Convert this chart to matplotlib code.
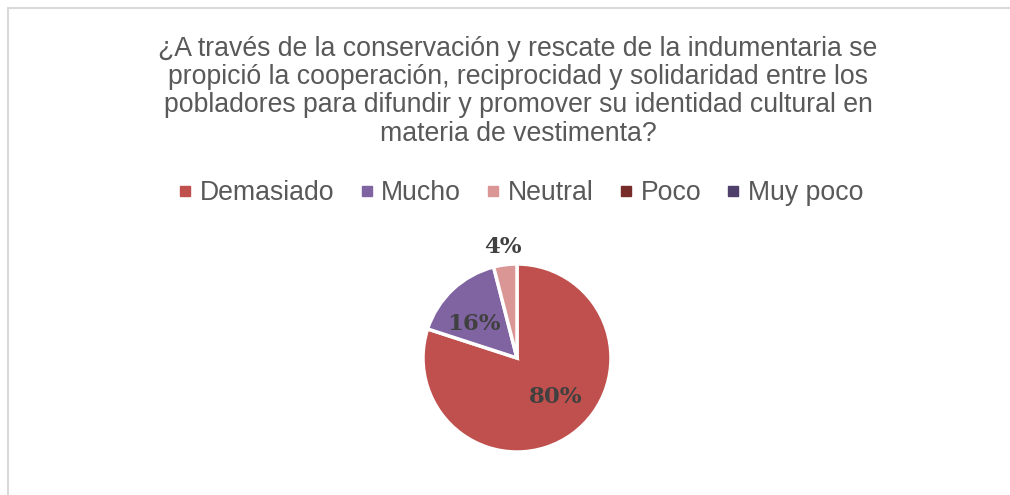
import matplotlib.pyplot as plt
from matplotlib.lines import Line2D
from matplotlib.patches import Rectangle

# Data
categories = ['Demasiado', 'Mucho', 'Neutral', 'Poco', 'Muy poco']
values = [80, 16, 4, 0, 0]
colors = ['#C0504D', '#8064A2', '#D99694', '#772C2A', '#4F3F6B']
title = ('¿A través de la conservación y rescate de la indumentaria se\n'
         'propició la cooperación, reciprocidad y solidaridad entre los\n'
         'pobladores para difundir y promover su identidad cultural en\n'
         'materia de vestimenta?')

W, H = 1010, 495
fig = plt.figure(figsize=(W / 100, H / 100), dpi=100)
fig.patch.set_facecolor('white')

# chart border (only left and top visible in the crop)
fig.patches.append(Rectangle((8 / W, -0.1), 1.2, 1.1 - 8 / H, transform=fig.transFigure,
                             fill=False, edgecolor='#D9D9D9', linewidth=1.5))

fig.text(518 / W, 1 - 36 / H, title, ha='center', va='top', fontsize=19.2,
         color='#595959', family='Liberation Sans', linespacing=1.11)

# pie
r = 94
cx, cy = 517, 358
ax = fig.add_axes([(cx - r) / W, 1 - (cy + r) / H, 2 * r / W, 2 * r / H])
shown = [(v, c) for v, c in zip(values, colors) if v > 0]
wedges, _ = ax.pie([v for v, c in shown], colors=[c for v, c in shown],
                   startangle=90, counterclock=False, radius=1,
                   wedgeprops=dict(edgecolor='white', linewidth=2.5))
ax.set_xlim(-1, 1)
ax.set_ylim(-1, 1)
ax.set_aspect('auto')
ax.axis('off')

# data labels at hand-placed pixel spots
label_px = [(556, 397), (474, 324), (503, 247)]
for (v, c), (px, py) in zip(shown, label_px):
    fig.text(px / W, 1 - py / H, f'{v}%', ha='center', va='center',
             fontsize=16.5, fontweight='bold', color='#404040', family='DejaVu Serif')

# legend
handles = [Line2D([0], [0], marker='s', linestyle='none', markersize=7,
                  markerfacecolor=c, markeredgecolor=c) for c in colors]
leg = fig.legend(handles, categories, loc='center', bbox_to_anchor=(521 / W, 1 - 193 / H),
                 ncol=5, frameon=False, handlelength=0.5, handletextpad=0.3,
                 columnspacing=0.95, prop={'family': 'Liberation Sans', 'size': 19.2})
for t in leg.get_texts():
    t.set_color('#595959')

fig.savefig('out.png', dpi=100)
